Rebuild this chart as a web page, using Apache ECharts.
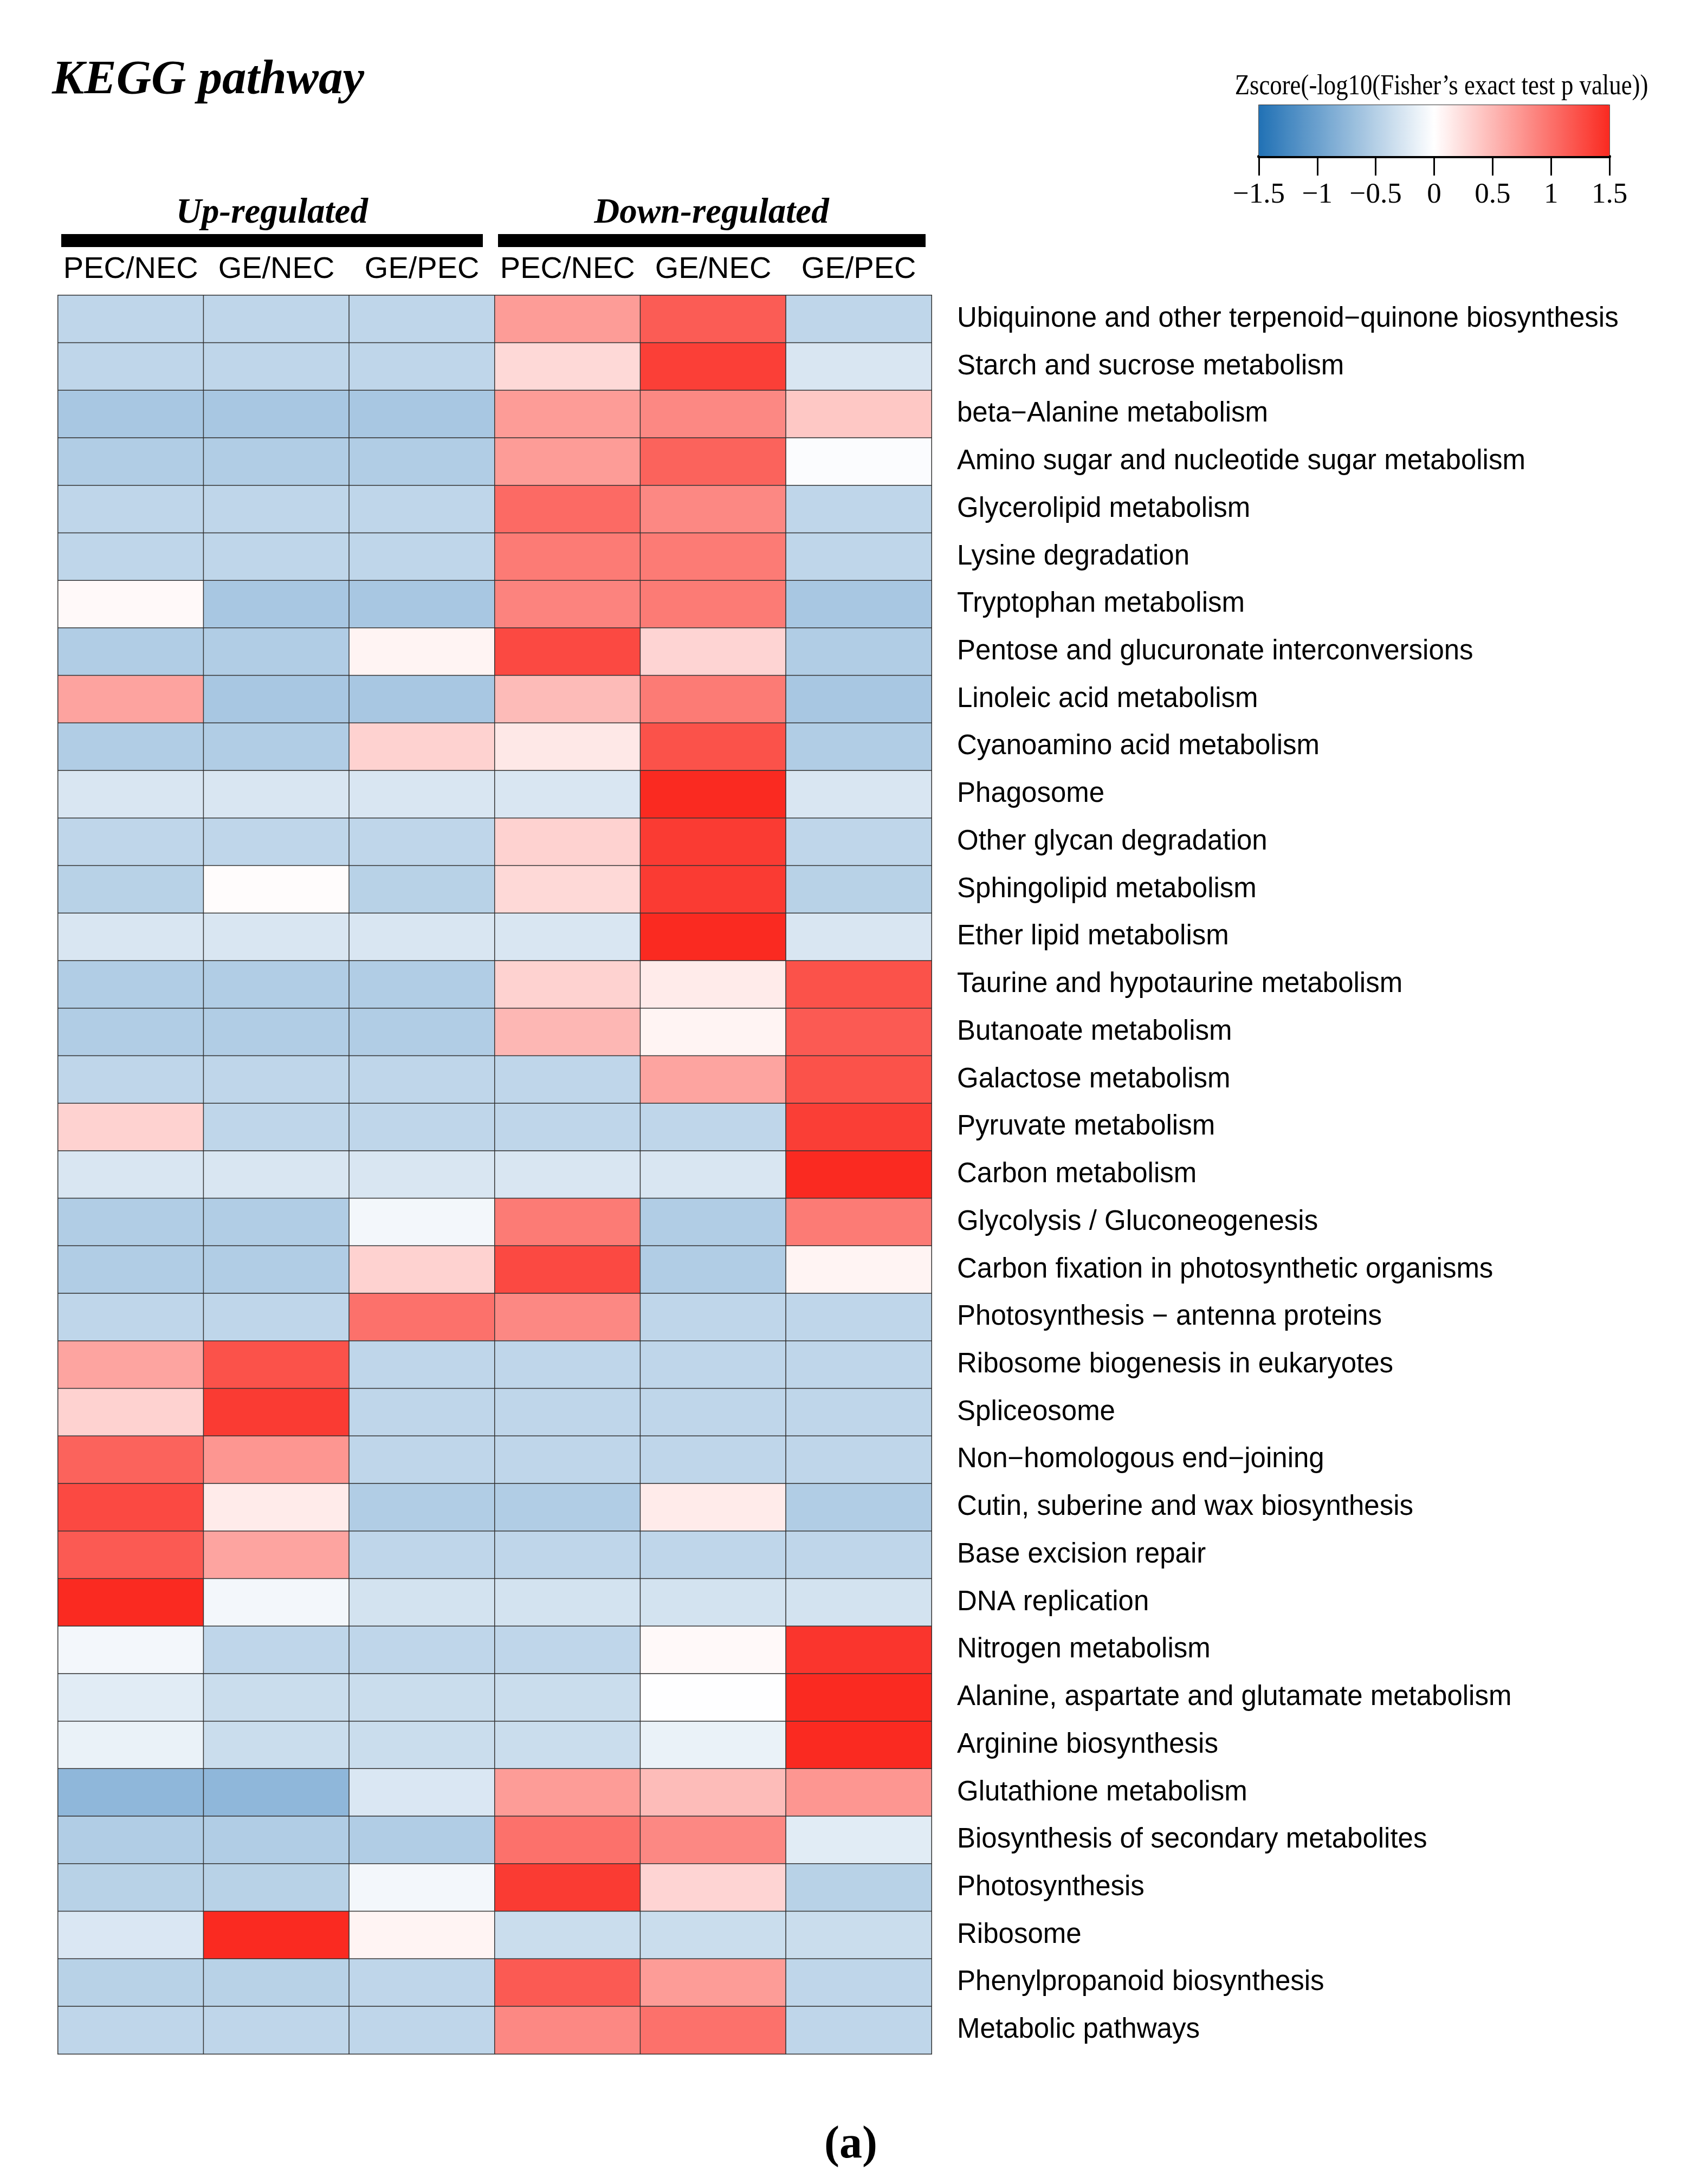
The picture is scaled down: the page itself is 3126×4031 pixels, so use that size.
<!DOCTYPE html>
<html>
<head>
<meta charset="utf-8">
<script src="https://cdn.jsdelivr.net/npm/echarts@6/dist/echarts.min.js"></script>
<style>
html,body{margin:0;padding:0;background:#fff;}
#chart{width:3126px;height:4031px;}
</style>
</head>
<body>
<div id="chart"></div>
<script>
const rowNames = [
  'Ubiquinone and other terpenoid\u2212quinone biosynthesis',
  'Starch and sucrose metabolism',
  'beta\u2212Alanine metabolism',
  'Amino sugar and nucleotide sugar metabolism',
  'Glycerolipid metabolism',
  'Lysine degradation',
  'Tryptophan metabolism',
  'Pentose and glucuronate interconversions',
  'Linoleic acid metabolism',
  'Cyanoamino acid metabolism',
  'Phagosome',
  'Other glycan degradation',
  'Sphingolipid metabolism',
  'Ether lipid metabolism',
  'Taurine and hypotaurine metabolism',
  'Butanoate metabolism',
  'Galactose metabolism',
  'Pyruvate metabolism',
  'Carbon metabolism',
  'Glycolysis / Gluconeogenesis',
  'Carbon fixation in photosynthetic organisms',
  'Photosynthesis \u2212 antenna proteins',
  'Ribosome biogenesis in eukaryotes',
  'Spliceosome',
  'Non\u2212homologous end\u2212joining',
  'Cutin, suberine and wax biosynthesis',
  'Base excision repair',
  'DNA replication',
  'Nitrogen metabolism',
  'Alanine, aspartate and glutamate metabolism',
  'Arginine biosynthesis',
  'Glutathione metabolism',
  'Biosynthesis of secondary metabolites',
  'Photosynthesis',
  'Ribosome',
  'Phenylpropanoid biosynthesis',
  'Metabolic pathways'
];

const colLabels = ['PEC/NEC', 'GE/NEC', 'GE/PEC', 'PEC/NEC', 'GE/NEC', 'GE/PEC'];
const groupLabels = ['Up-regulated', 'Down-regulated'];
const legendTitle = 'Zscore(-log10(Fisher\u2019s exact test p value))';
const legendTicks = [-1.5, -1, -0.5, 0, 0.5, 1, 1.5];

// values per column (rows in the order of rowNames)
const upPECvsNEC = [-0.43,-0.43,-0.59,-0.53,-0.43,-0.43,0.04,-0.53,0.65,-0.53,-0.26,-0.43,-0.48,-0.26,-0.53,-0.53,-0.43,0.32,-0.26,-0.53,-0.53,-0.43,0.64,0.32,1.10,1.28,1.16,1.50,-0.08,-0.20,-0.14,-0.76,-0.53,-0.48,-0.25,-0.48,-0.43];
const upGEvsNEC  = [-0.43,-0.43,-0.59,-0.53,-0.43,-0.43,-0.59,-0.53,-0.59,-0.53,-0.26,-0.43,0.02,-0.26,-0.53,-0.53,-0.43,-0.43,-0.26,-0.53,-0.53,-0.43,1.22,1.38,0.74,0.14,0.64,-0.08,-0.43,-0.36,-0.36,-0.76,-0.53,-0.48,1.50,-0.48,-0.43];
const upGEvsPEC  = [-0.43,-0.43,-0.59,-0.53,-0.43,-0.43,-0.59,0.08,-0.59,0.32,-0.26,-0.43,-0.48,-0.26,-0.53,-0.53,-0.43,-0.43,-0.26,-0.08,0.32,1.00,-0.43,-0.43,-0.43,-0.53,-0.43,-0.30,-0.43,-0.36,-0.36,-0.25,-0.53,-0.08,0.08,-0.43,-0.43];
const downPECvsNEC = [0.70,0.27,0.70,0.70,1.05,0.93,0.87,1.28,0.48,0.16,-0.26,0.32,0.27,-0.26,0.32,0.51,-0.43,-0.43,-0.26,0.93,1.28,0.84,-0.43,-0.43,-0.43,-0.53,-0.43,-0.30,-0.43,-0.36,-0.36,0.70,1.00,1.38,-0.36,1.16,0.84];
const downGEvsNEC  = [1.15,1.35,0.84,1.10,0.84,0.93,0.93,0.30,0.93,1.22,1.50,1.38,1.38,1.50,0.14,0.08,0.64,-0.43,-0.26,-0.53,-0.53,-0.43,-0.43,-0.43,-0.43,0.14,-0.43,-0.30,0.04,-0.01,-0.14,0.47,0.84,0.30,-0.36,0.70,1.00];
const downGEvsPEC  = [-0.43,-0.26,0.39,-0.03,-0.43,-0.43,-0.59,-0.53,-0.59,-0.53,-0.26,-0.43,-0.48,-0.26,1.22,1.16,1.22,1.36,1.50,0.93,0.08,-0.43,-0.43,-0.43,-0.43,-0.53,-0.43,-0.30,1.42,1.50,1.50,0.74,-0.20,-0.48,-0.36,-0.43,-0.43];

const columns = [upPECvsNEC, upGEvsNEC, upGEvsPEC, downPECvsNEC, downGEvsNEC, downGEvsPEC];

const heatData = [];
columns.forEach(function (col, c) {
  col.forEach(function (v, r) { heatData.push([c, r, v]); });
});

// layout
const G = { left: 107, top: 545, width: 1612, height: 3246 };
const colW = G.width / colLabels.length;
const SERIF = '"Liberation Serif", "Times New Roman", serif';
const SANS = '"Liberation Sans", Arial, sans-serif';

const chart = echarts.init(document.getElementById('chart'), null, { renderer: 'canvas' });

const option = {
  backgroundColor: '#ffffff',
  animation: false,
  title: {
    text: 'KEGG pathway',
    left: 96,
    top: 105,
    padding: 0,
    textStyle: { fontFamily: SERIF, fontSize: 89, fontWeight: 'bold', fontStyle: 'italic', color: '#000', lineHeight: 89 }
  },
  grid: [
    { left: G.left, top: G.top, width: G.width, height: G.height, containLabel: false },
    { left: 2323, top: 287, width: 647, height: 2, containLabel: false }
  ],
  xAxis: [
    {
      gridIndex: 0,
      type: 'category',
      data: colLabels,
      position: 'top',
      axisLine: { show: false },
      axisTick: { show: false },
      splitLine: { show: false },
      axisLabel: { interval: 0, margin: 19, fontSize: 56, lineHeight: 56, fontFamily: SANS, color: '#000' }
    },
    {
      gridIndex: 1,
      type: 'value',
      min: -1.5,
      max: 1.5,
      interval: 0.5,
      position: 'bottom',
      axisLine: { show: true, lineStyle: { color: '#000', width: 6 } },
      axisTick: { show: true, length: 35, lineStyle: { color: '#000', width: 3 } },
      splitLine: { show: false },
      axisLabel: {
        margin: 45, fontSize: 53, lineHeight: 53, fontFamily: SERIF, color: '#000',
        formatter: function (v) { return v < 0 ? '\u2212' + Math.abs(v) : String(v); }
      }
    }
  ],
  yAxis: [
    {
      gridIndex: 0,
      type: 'category',
      data: rowNames,
      inverse: true,
      position: 'right',
      axisLine: { show: false },
      axisTick: { show: false },
      splitLine: { show: false },
      axisLabel: { interval: 0, margin: 47, fontSize: 51, fontFamily: SANS, color: '#000', align: 'left', padding: [14, 0, 0, 0] }
    },
    { gridIndex: 1, type: 'value', show: false }
  ],
  visualMap: {
    type: 'continuous',
    min: -1.5,
    max: 1.5,
    seriesIndex: 0,
    orient: 'horizontal',
    left: 2323,
    top: 194,
    itemWidth: 94,
    itemHeight: 647,
    padding: 0,
    text: null,
    showLabel: false,
    calculable: false,
    hoverLink: false,
    realtime: false,
    borderColor: '#222',
    borderWidth: 0,
    inRange: { color: ['#2171B5', '#FFFFFF', '#FA2A21'] }
  },
  series: [
    {
      type: 'heatmap',
      xAxisIndex: 0,
      yAxisIndex: 0,
      data: heatData,
      itemStyle: { borderColor: '#333', borderWidth: 1.5 },
      emphasis: { disabled: true },
      label: { show: false }
    }
  ],
  graphic: [
    // legend title
    {
      type: 'text', x: 2660, y: 160, scaleX: 0.845,
      style: { text: legendTitle, font: '53px ' + SERIF, fill: '#000', textAlign: 'center', textVerticalAlign: 'middle' }
    },
    // legend frame
    { type: 'rect', shape: { x: 2323, y: 193, width: 647, height: 2 }, style: { fill: '#333' } },
    { type: 'rect', shape: { x: 2322, y: 193, width: 2, height: 95 }, style: { fill: '#555' } },
    { type: 'rect', shape: { x: 2969, y: 193, width: 2, height: 95 }, style: { fill: '#555' } },
    // group bars
    { type: 'rect', shape: { x: G.left + 6, y: 432, width: 3 * colW - 28, height: 24 }, style: { fill: '#000' } },
    { type: 'rect', shape: { x: G.left + 3 * colW + 6, y: 432, width: 3 * colW - 17, height: 24 }, style: { fill: '#000' } },
    // group labels
    {
      type: 'text', x: G.left + 1.5 * colW - 8, y: 394,
      style: { text: groupLabels[0], font: 'italic bold 65px ' + SERIF, fill: '#000', textAlign: 'center', textVerticalAlign: 'middle' }
    },
    {
      type: 'text', x: G.left + 4.5 * colW - 3, y: 394,
      style: { text: groupLabels[1], font: 'italic bold 65px ' + SERIF, fill: '#000', textAlign: 'center', textVerticalAlign: 'middle' }
    },
    // panel label
    {
      type: 'text', x: 1570, y: 3960,
      style: { text: '(a)', font: 'bold 84px ' + SERIF, fill: '#000', textAlign: 'center', textVerticalAlign: 'middle' }
    }
  ]
};

chart.setOption(option);
</script>
</body>
</html>
